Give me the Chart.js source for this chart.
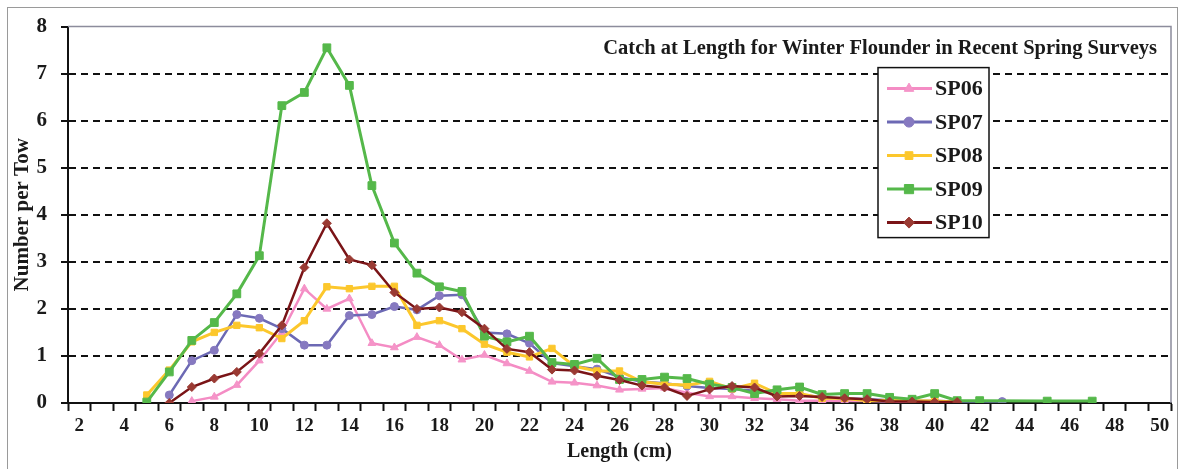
<!DOCTYPE html>
<html>
<head>
<meta charset="utf-8">
<script src="https://cdn.jsdelivr.net/npm/chart.js@4.4.1/dist/chart.umd.min.js"></script>
<style>
  html, body { margin: 0; padding: 0; background: #fff; }
  #wrap { width: 1183px; height: 469px; }
</style>
</head>
<body>
<div id="wrap"><canvas id="chart" width="1183" height="469"></canvas></div>
<script>
// length classes (cm) on the category axis
const lengths = ['2','3','4','5','6','7','8','9','10','11','12','13','14','15','16','17','18','19','20',
  '21','22','23','24','25','26','27','28','29','30','31','32','33','34','35','36','37','38','39','40',
  '41','42','43','44','45','46','47','48','49','50'];

const seriesNames = ['SP06', 'SP07', 'SP08', 'SP09', 'SP10'];

// number per tow, one value per length class above (null = no catch plotted)
const sp06 = [null,null,null,null,null,0.04,0.13,0.38,0.90,1.50,2.43,2.00,2.22,1.27,1.18,1.40,1.23,0.92,1.02,
  0.84,0.68,0.45,0.43,0.37,0.28,0.30,0.32,0.22,0.14,0.14,0.10,0.08,0.05,0.05,0.04,0.04,0.03,0.02,0.02,
  null,null,null,null,null,null,null,null,null,null];
const sp07 = [null,null,null,null,0.17,0.90,1.12,1.88,1.80,1.58,1.23,1.23,1.86,1.88,2.05,1.98,2.28,2.30,1.50,
  1.47,1.27,0.85,0.78,0.72,0.55,0.45,0.42,0.36,0.32,0.30,0.26,0.20,0.18,0.12,0.10,0.08,0.06,0.05,0.04,
  0.03,null,0.03,null,null,null,null,null,null,null];
const sp08 = [null,null,null,0.17,0.70,1.30,1.50,1.65,1.60,1.37,1.75,2.47,2.43,2.48,2.48,1.65,1.75,1.58,1.25,
  1.08,0.98,1.16,0.78,0.68,0.68,0.45,0.40,0.38,0.46,0.30,0.42,0.20,0.20,0.10,0.10,0.05,0.06,0.05,0.04,
  0.02,null,null,null,null,null,null,null,null,null];
const sp09 = [null,null,null,0.02,0.66,1.33,1.71,2.32,3.13,6.32,6.60,7.55,6.75,4.62,3.40,2.76,2.47,2.37,1.42,
  1.30,1.42,0.86,0.82,0.95,0.50,0.50,0.55,0.52,0.40,0.33,0.20,0.28,0.34,0.18,0.20,0.20,0.12,0.08,0.20,
  0.05,0.05,null,null,0.04,null,0.04,null,null,null];
const sp10 = [null,null,null,null,0.00,0.34,0.52,0.66,1.05,1.65,2.88,3.82,3.05,2.93,2.35,2.00,2.03,1.93,1.58,
  1.15,1.08,0.71,0.69,0.58,0.49,0.37,0.33,0.15,0.29,0.36,0.33,0.14,0.15,0.13,0.10,0.08,0.03,0.03,0.02,
  0.02,null,null,null,null,null,null,null,null,null];

const yTicks = [0, 1, 2, 3, 4, 5, 6, 7, 8];

const FONT = '"Liberation Serif", "DejaVu Serif", serif';

function makeSeries(label, data, line, fill, style, radius, width, order) {
  return {
    label: label,
    data: data,
    borderColor: line,
    backgroundColor: fill,
    pointBackgroundColor: fill,
    pointBorderColor: fill,
    pointStyle: style,
    pointRadius: radius,
    pointBorderWidth: 1,
    borderWidth: width,
    tension: 0,
    spanGaps: true,
    order: order
  };
}

// frame around the whole picture
const framePlugin = {
  id: 'frame',
  beforeDraw(chart) {
    const ctx = chart.ctx;
    ctx.save();
    ctx.fillStyle = '#fff';
    ctx.fillRect(0, 0, chart.width, chart.height);
    ctx.strokeStyle = '#9a9a9a';
    ctx.lineWidth = 1;
    ctx.strokeRect(7.5, 7.5, chart.width - 13, chart.height - 4);
    ctx.restore();
  },
  beforeDatasetsDraw(chart) {
    const a = chart.chartArea;
    const ctx = chart.ctx;
    ctx.save();
    ctx.strokeStyle = '#8c8c9c';
    ctx.lineWidth = 1.5;
    ctx.beginPath();
    ctx.moveTo(a.left, a.top);
    ctx.lineTo(a.right, a.top);
    ctx.lineTo(a.right, a.bottom);
    ctx.stroke();
    ctx.restore();
  }
};

// title and boxed legend sit inside the plot area
const insetPlugin = {
  id: 'inset',
  afterDraw(chart) {
    const a = chart.chartArea;
    const ctx = chart.ctx;
    ctx.save();
    ctx.fillStyle = '#1a1a1a';
    ctx.font = 'bold 20.5px ' + FONT;
    ctx.textAlign = 'right';
    ctx.textBaseline = 'middle';
    ctx.fillText('Catch at Length for Winter Flounder in Recent Spring Surveys', a.right - 14, a.top + 22);

    const bx = a.left + 810, by = a.top + 41, bw = 111, bh = 170;
    ctx.fillStyle = '#fff';
    ctx.fillRect(bx, by, bw, bh);
    ctx.strokeStyle = '#111';
    ctx.lineWidth = 1.5;
    ctx.strokeRect(bx, by, bw, bh);

    ctx.textAlign = 'left';
    ctx.font = 'bold 22px ' + FONT;
    chart.data.datasets.forEach((ds, i) => {
      const y = by + 21 + i * 33.5;
      ctx.strokeStyle = ds.borderColor;
      ctx.lineWidth = 3;
      ctx.beginPath();
      ctx.moveTo(bx + 9, y);
      ctx.lineTo(bx + 54, y);
      ctx.stroke();
      ctx.fillStyle = ds.pointBackgroundColor;
      ctx.strokeStyle = ds.pointBorderColor;
      ctx.lineWidth = 1;
      Chart.helpers.drawPoint(ctx, { pointStyle: ds.pointStyle, radius: ds.pointRadius + 1, borderWidth: 1, rotation: 0 }, bx + 31, y);
      ctx.fillStyle = '#1a1a1a';
      ctx.fillText(ds.label, bx + 57, y + 1);
    });
    ctx.restore();
  }
};

new Chart(document.getElementById('chart'), {
  type: 'line',
  data: {
    labels: lengths,
    datasets: [
      makeSeries(seriesNames[0], sp06, '#f48cc4', '#f594c8', 'triangle', 4.5, 2.5, 4),
      makeSeries(seriesNames[1], sp07, '#6c69b4', '#8679c0', 'circle', 4, 2.5, 3),
      makeSeries(seriesNames[2], sp08, '#fcc72c', '#fcc72c', 'rect', 4.5, 3, 2),
      makeSeries(seriesNames[3], sp09, '#55b84a', '#55b84a', 'rect', 5.5, 3, 1),
      makeSeries(seriesNames[4], sp10, '#7a1417', '#9a3a33', 'rectRot', 4.5, 2.5, 0)
    ]
  },
  options: {
    responsive: false,
    animation: false,
    layout: { padding: { left: 10, right: 12, top: 25, bottom: 5 } },
    plugins: {
      legend: { display: false },
      title: { display: false },
      tooltip: { enabled: false }
    },
    scales: {
      x: {
        type: 'category',
        offset: true,
        grid: {
          offset: true,
          drawOnChartArea: false,
          drawTicks: true,
          tickLength: 8,
          tickColor: '#111',
          tickWidth: 2
        },
        border: { display: true, color: '#111', width: 2 },
        ticks: {
          autoSkip: false,
          maxRotation: 0,
          minRotation: 0,
          padding: 4,
          color: '#1a1a1a',
          font: { family: FONT, size: 19, weight: 'bold' },
          callback: (val, i) => (i % 2 === 0 ? lengths[i] : '')
        },
        title: {
          display: true,
          text: 'Length (cm)',
          color: '#1a1a1a',
          font: { family: FONT, size: 20, weight: 'bold' },
          padding: { top: 0, bottom: 0 }
        },
        afterFit(scale) { scale.height = 61; }
      },
      y: {
        min: 0,
        max: 8,
        afterBuildTicks(scale) { scale.ticks = yTicks.map(v => ({ value: v })); },
        grid: {
          color: (ctx) => (ctx.tick && (ctx.tick.value === 0 || ctx.tick.value === 8)) ? 'rgba(0,0,0,0)' : '#111',
          lineWidth: 2,
          drawTicks: true,
          tickLength: 7,
          tickColor: '#111',
          tickWidth: 2
        },
        border: { display: true, color: '#111', width: 2, dash: [7, 5] },
        ticks: {
          padding: 14,
          color: '#1a1a1a',
          font: { family: FONT, size: 21, weight: 'bold' }
        },
        title: {
          display: true,
          text: 'Number per Tow',
          color: '#1a1a1a',
          font: { family: FONT, size: 21, weight: 'bold' },
          padding: { top: 0, bottom: 0 }
        },
        afterFit(scale) { scale.width = 58; }
      }
    }
  },
  plugins: [framePlugin, insetPlugin]
});
</script>
</body>
</html>
